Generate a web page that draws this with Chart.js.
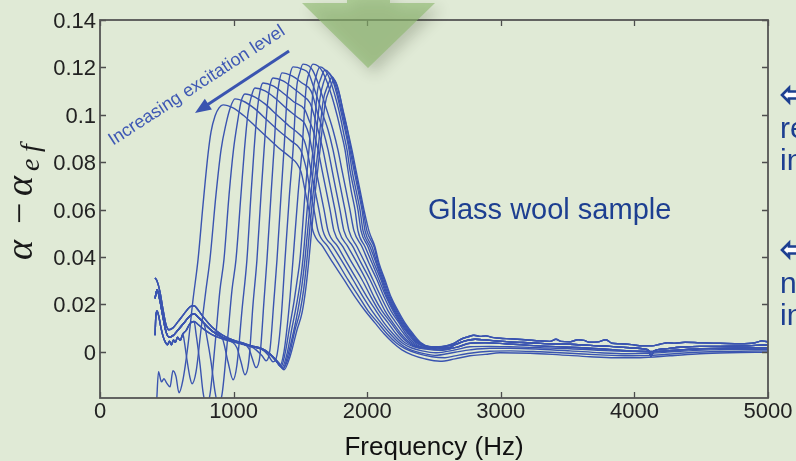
<!DOCTYPE html>
<html><head><meta charset="utf-8">
<script src="https://cdn.jsdelivr.net/npm/chart.js"></script>
<style>html,body{margin:0;padding:0;background:#e0ead6;overflow:hidden}canvas{display:block}</style>
</head><body>
<canvas id="c" width="796" height="461"></canvas>
<script>
// ---------- data (frequency Hz, alpha - alpha_ef) ----------
const xTicks = [0, 1000, 2000, 3000, 4000, 5000];
const yTicks = [0, 0.02, 0.04, 0.06, 0.08, 0.1, 0.12, 0.14];

const headA = [[412,0.0312],[427,0.0299],[449,0.0253],[472,0.0177],[494,0.0114],[516,0.0093],[546,0.0101],[584,0.0127],[629,0.0160],[674,0.0190],[704,0.0194],[734,0.0177],[778,0.0143],[838,0.0105],[913,0.0072],[988,0.0051],[1063,0.0038],[1138,0.0025],[1213,0.0013],[1272,-0.0008],[1317,-0.0034],[1355,-0.0059]];
const headB = [[412,0.0225],[427,0.0262],[449,0.0215],[472,0.0145],[494,0.0085],[516,0.0062],[546,0.0068],[584,0.0092],[629,0.0122],[674,0.0152],[704,0.0160],[734,0.0146],[778,0.0120],[838,0.0088],[913,0.0062],[988,0.0046],[1063,0.0034],[1138,0.0022],[1213,0.0010],[1272,-0.0011],[1317,-0.0038],[1355,-0.0064]];
const headC = [[412,0.0070],[418,0.0150],[427,0.0172],[440,0.0150],[455,0.0105],[472,0.0065],[490,0.0040],[505,0.0030],[520,0.0045],[535,0.0030],[550,0.0050],[565,0.0040],[580,0.0062],[600,0.0048],[620,0.0075],[645,0.0090],[674,0.0120],[704,0.0128],[734,0.0115],[778,0.0095],[838,0.0072],[913,0.0055],[988,0.0042],[1063,0.0032],[1138,0.0020],[1213,0.0008],[1272,-0.0013],[1317,-0.0041],[1355,-0.0068]];

const c01 = [[424,-0.021],[438,-0.0084],[460,-0.0127],[479,-0.0114],[498,-0.0131],[524,-0.0148],[546,-0.0080],[569,-0.0105],[591,-0.0173],[621,-0.0118],[659,0.0030],[696,0.0219],[734,0.0390],[771,0.0620],[808,0.0831],[831,0.0928],[861,0.0995],[891,0.1029],[921,0.1042],[996,0.1029],[1070,0.0999],[1160,0.0953],[1257,0.0902],[1347,0.0856],[1422,0.0822],[1475,0.0793],[1505,0.0759],[1534,0.0683],[1564,0.0599],[1594,0.0510],[1669,0.0443],[1744,0.0375],[1826,0.0304],[1909,0.0232],[1984,0.0173],[2058,0.0122],[2126,0.0076],[2193,0.0038],[2260,0.0008],[2335,-0.0013],[2433,-0.0030],[2545,-0.0040]];
const c02 = [[629,0.0051],[651,-0.0034],[674,-0.0110],[689,-0.0135],[719,-0.0084],[756,0.0093],[793,0.0261],[823,0.0390],[868,0.0662],[906,0.0852],[943,0.0961],[977,0.1033],[1010,0.1067],[1085,0.1054],[1160,0.1025],[1250,0.0978],[1340,0.0932],[1430,0.0890],[1497,0.0856],[1527,0.0810],[1549,0.0759],[1572,0.0683],[1602,0.0599],[1632,0.0510],[1707,0.0443],[1781,0.0375],[1856,0.0304],[1939,0.0232],[2006,0.0173],[2081,0.0122],[2148,0.0076],[2216,0.0038],[2283,0.0013],[2380,-0.0008],[2485,-0.0021],[2582,-0.0025]];
const c03 = [[719,0.0076],[749,-0.0055],[771,-0.0169],[793,-0.0219],[823,-0.0181],[861,0.0030],[898,0.0261],[928,0.0390],[966,0.0662],[999,0.0852],[1033,0.0983],[1055,0.1054],[1085,0.1088],[1160,0.1075],[1235,0.1046],[1325,0.0999],[1415,0.0953],[1490,0.0919],[1527,0.0894],[1549,0.0852],[1579,0.0767],[1609,0.0683],[1639,0.0599],[1669,0.0510],[1744,0.0443],[1819,0.0375],[1894,0.0304],[1969,0.0232],[2036,0.0173],[2103,0.0122],[2171,0.0076],[2238,0.0038],[2305,0.0013],[2395,-0.0004],[2507,-0.0015]];
const c04 = [[801,0.0059],[831,-0.0042],[861,-0.0169],[883,-0.0219],[913,-0.0181],[951,0.0030],[988,0.0261],[1018,0.0390],[1055,0.0662],[1081,0.0852],[1108,0.1008],[1134,0.1080],[1160,0.1113],[1235,0.1101],[1310,0.1071],[1400,0.1025],[1475,0.0991],[1534,0.0961],[1564,0.0915],[1587,0.0852],[1617,0.0767],[1647,0.0683],[1677,0.0599],[1707,0.0510],[1781,0.0443],[1849,0.0375],[1924,0.0304],[1998,0.0232],[2066,0.0173],[2126,0.0122],[2193,0.0076],[2260,0.0038],[2328,0.0017],[2410,0.0004],[2515,-0.0004]];
const c05 = [[928,0.0034],[958,-0.0042],[996,-0.0118],[1025,-0.0055],[1063,0.0177],[1100,0.0390],[1130,0.0662],[1153,0.0852],[1179,0.1029],[1198,0.1101],[1220,0.1134],[1295,0.1122],[1370,0.1092],[1452,0.1054],[1534,0.1021],[1564,0.0978],[1594,0.0936],[1632,0.0852],[1662,0.0767],[1692,0.0683],[1722,0.0599],[1751,0.0510],[1819,0.0443],[1886,0.0375],[1961,0.0304],[2028,0.0232],[2088,0.0173],[2156,0.0122],[2216,0.0076],[2283,0.0038],[2350,0.0021],[2440,0.0011],[2545,0.0006]];
const c06 = [[1025,0.0017],[1055,-0.0042],[1085,-0.0097],[1115,-0.0034],[1145,0.0198],[1175,0.0390],[1205,0.0662],[1228,0.0852],[1254,0.1050],[1272,0.1122],[1295,0.1155],[1370,0.1143],[1445,0.1113],[1519,0.1080],[1572,0.1050],[1602,0.0999],[1632,0.0936],[1669,0.0852],[1699,0.0767],[1729,0.0683],[1759,0.0599],[1789,0.0510],[1856,0.0443],[1924,0.0375],[1991,0.0304],[2051,0.0232],[2111,0.0173],[2178,0.0122],[2238,0.0076],[2305,0.0038],[2365,0.0021],[2455,0.0013],[2560,0.0008]];
const c07 = [[1115,0.0013],[1138,-0.0025],[1168,-0.0067],[1198,-0.0013],[1228,0.0219],[1250,0.0390],[1280,0.0662],[1302,0.0852],[1325,0.1071],[1343,0.1143],[1362,0.1177],[1437,0.1164],[1512,0.1134],[1579,0.1101],[1602,0.1063],[1632,0.0999],[1669,0.0936],[1707,0.0852],[1737,0.0767],[1766,0.0683],[1796,0.0599],[1826,0.0510],[1894,0.0443],[1954,0.0375],[2021,0.0304],[2081,0.0232],[2133,0.0173],[2193,0.0122],[2253,0.0076],[2320,0.0038],[2380,0.0021],[2470,0.0015],[2582,0.0011]];
const c08 = [[1168,0.0008],[1213,-0.0017],[1243,-0.0038],[1272,0.0008],[1302,0.0219],[1325,0.0390],[1355,0.0662],[1377,0.0852],[1403,0.1096],[1422,0.1168],[1445,0.1202],[1512,0.1193],[1564,0.1172],[1594,0.1126],[1632,0.1063],[1669,0.0999],[1707,0.0936],[1744,0.0852],[1774,0.0767],[1804,0.0683],[1834,0.0599],[1864,0.0510],[1924,0.0443],[1984,0.0375],[2043,0.0304],[2103,0.0232],[2156,0.0173],[2216,0.0122],[2275,0.0076],[2335,0.0038],[2395,0.0021],[2485,0.0017],[2597,0.0013]];
const c09 = [[1257,-0.0013],[1295,-0.0042],[1325,-0.0013],[1355,0.0135],[1385,0.0390],[1418,0.0662],[1445,0.0852],[1471,0.1109],[1497,0.1181],[1519,0.1214],[1564,0.1206],[1594,0.1185],[1632,0.1134],[1669,0.1071],[1707,0.1004],[1744,0.0936],[1781,0.0852],[1811,0.0767],[1841,0.0683],[1871,0.0599],[1901,0.0510],[1961,0.0443],[2013,0.0375],[2073,0.0304],[2126,0.0232],[2178,0.0173],[2238,0.0122],[2290,0.0076],[2350,0.0038],[2410,0.0021],[2500,0.0017],[2605,0.0015]];
const c10 = [[1347,-0.0059],[1377,0.0000],[1400,0.0101],[1422,0.0228],[1445,0.0390],[1482,0.0662],[1512,0.0852],[1542,0.1109],[1568,0.1181],[1594,0.1214],[1632,0.1206],[1662,0.1185],[1699,0.1139],[1737,0.1075],[1774,0.0999],[1804,0.0928],[1834,0.0852],[1856,0.0767],[1879,0.0683],[1909,0.0599],[1931,0.0510],[1984,0.0443],[2036,0.0375],[2088,0.0304],[2141,0.0232],[2193,0.0173],[2246,0.0122],[2305,0.0076],[2365,0.0038],[2425,0.0023],[2515,0.0019],[2620,0.0017]];
const c11 = [[1355,-0.0063],[1385,-0.0008],[1422,0.0114],[1452,0.0211],[1475,0.0299],[1497,0.0390],[1534,0.0662],[1564,0.0852],[1594,0.1096],[1620,0.1168],[1647,0.1202],[1677,0.1193],[1707,0.1168],[1737,0.1122],[1774,0.1050],[1804,0.0978],[1826,0.0915],[1849,0.0852],[1871,0.0767],[1901,0.0683],[1931,0.0599],[1954,0.0510],[2006,0.0443],[2051,0.0375],[2103,0.0304],[2148,0.0232],[2201,0.0173],[2253,0.0122],[2313,0.0076],[2373,0.0038],[2433,0.0023],[2522,0.0021],[2620,0.0019]];
const c12 = [[1362,-0.0067],[1400,-0.0008],[1437,0.0101],[1467,0.0186],[1497,0.0287],[1519,0.0390],[1560,0.0662],[1594,0.0852],[1624,0.1084],[1654,0.1155],[1684,0.1189],[1714,0.1177],[1744,0.1143],[1774,0.1084],[1804,0.1012],[1834,0.0936],[1864,0.0852],[1886,0.0767],[1916,0.0683],[1946,0.0599],[1969,0.0510],[2021,0.0443],[2066,0.0375],[2111,0.0304],[2156,0.0232],[2208,0.0173],[2260,0.0122],[2320,0.0076],[2380,0.0038],[2440,0.0023],[2530,0.0021]];
const c13 = [[1370,-0.0070],[1407,-0.0013],[1452,0.0093],[1482,0.0177],[1512,0.0283],[1534,0.0390],[1579,0.0662],[1609,0.0852],[1647,0.1071],[1677,0.1143],[1707,0.1177],[1737,0.1160],[1766,0.1118],[1796,0.1050],[1826,0.0978],[1849,0.0915],[1871,0.0852],[1901,0.0767],[1931,0.0683],[1961,0.0599],[1984,0.0510],[2036,0.0443],[2073,0.0375],[2118,0.0304],[2163,0.0232],[2216,0.0173],[2268,0.0122],[2328,0.0076],[2388,0.0038],[2448,0.0023],[2537,0.0021]];
const c14 = [[1370,-0.0072],[1415,-0.0017],[1460,0.0093],[1497,0.0169],[1527,0.0274],[1549,0.0390],[1594,0.0662],[1632,0.0852],[1669,0.1054],[1707,0.1126],[1737,0.1160],[1759,0.1143],[1789,0.1092],[1819,0.1021],[1849,0.0945],[1879,0.0852],[1909,0.0767],[1939,0.0683],[1969,0.0599],[1998,0.0510],[2051,0.0443],[2081,0.0375],[2126,0.0304],[2171,0.0232],[2223,0.0173],[2275,0.0122],[2335,0.0076],[2395,0.0038],[2455,0.0023],[2545,0.0021]];
const c15 = [[1377,-0.0076],[1422,-0.0021],[1475,0.0093],[1512,0.0164],[1542,0.0274],[1564,0.0390],[1609,0.0662],[1647,0.0852],[1684,0.1042],[1722,0.1113],[1751,0.1147],[1774,0.1126],[1796,0.1080],[1819,0.1012],[1856,0.0928],[1886,0.0852],[1916,0.0767],[1946,0.0683],[1976,0.0599],[2013,0.0510],[2058,0.0443],[2088,0.0375],[2133,0.0304],[2178,0.0232],[2231,0.0173],[2283,0.0122],[2343,0.0076],[2403,0.0038],[2463,0.0023],[2552,0.0021]];

const tailA = [[2657,0.0038],[2710,0.0055],[2754,0.0063],[2799,0.0070],[2844,0.0065],[2889,0.0067],[2934,0.0061],[2994,0.0057],[3069,0.0055],[3181,0.0051],[3293,0.0046],[3368,0.0044],[3413,0.0053],[3451,0.0044],[3518,0.0042],[3578,0.0051],[3623,0.0048],[3668,0.0040],[3728,0.0042],[3787,0.0051],[3832,0.0036],[3892,0.0034],[3982,0.0030],[4057,0.0025],[4132,0.0025],[4192,0.0032],[4251,0.0038],[4304,0.0036],[4379,0.0040],[4491,0.0038],[4641,0.0036],[4790,0.0034],[4903,0.0038],[4955,0.0046],[5000,0.0042]];
const tailB = [[2657,0.0030],[2732,0.0046],[2807,0.0053],[2919,0.0048],[3069,0.0042],[3218,0.0038],[3368,0.0034],[3518,0.0032],[3668,0.0027],[3817,0.0023],[3967,0.0017],[4079,0.0011],[4109,0.0004],[4124,-0.0019],[4147,0.0004],[4229,0.0013],[4341,0.0019],[4491,0.0023],[4641,0.0023],[4828,0.0025],[5000,0.0030]];
const tailC = [[2680,0.0021],[2769,0.0036],[2882,0.0038],[3031,0.0034],[3218,0.0027],[3443,0.0021],[3668,0.0015],[3855,0.0008],[4004,0.0002],[4117,0.0000],[4192,0.0002],[4341,0.0008],[4491,0.0013],[4716,0.0015],[5000,0.0017]];
const tailL1 = [[2657,-0.0030],[2769,-0.0017],[2882,-0.0011],[2994,-0.0004],[3219,-0.0006],[3443,-0.0013],[3668,-0.0021],[3855,-0.0025],[4042,-0.0025],[4266,-0.0017],[4491,-0.0008],[4716,-0.0004],[5000,-0.0002]];
const tailL2 = [[2657,-0.0017],[2769,-0.0006],[2919,0.0002],[3069,0.0004],[3293,0.0000],[3518,-0.0006],[3743,-0.0013],[3930,-0.0017],[4117,-0.0015],[4341,-0.0006],[4566,0.0000],[4790,0.0002],[5000,0.0004]];
const tailL3 = [[2657,-0.0002],[2769,0.0008],[2919,0.0015],[3069,0.0015],[3293,0.0011],[3518,0.0004],[3743,-0.0004],[3930,-0.0008],[4117,-0.0006],[4341,0.0002],[4566,0.0008],[4790,0.0011],[5000,0.0011]];
const tailL4 = [[2657,0.0008],[2769,0.0021],[2919,0.0023],[3069,0.0021],[3293,0.0017],[3518,0.0013],[3743,0.0006],[3930,0.0002],[4117,0.0002],[4341,0.0008],[4566,0.0015],[4790,0.0017],[5000,0.0017]];

// which shared low-frequency part and tail each curve continues with
const curveParts = [
  [[], c01, tailL1], [headC, c02, tailL2], [headC, c03, tailL3], [headB, c04, tailL4],
  [headB, c05, tailC], [headC, c06, tailC], [headB, c07, tailC], [headC, c08, tailB],
  [headB, c09, tailB], [headA, c10, tailA], [headB, c11, tailB], [headA, c12, tailA],
  [headB, c13, tailB], [headA, c14, tailA], [headB, c15, tailB]
];

// annotation anchors (data coordinates)
const excitationLabel = {text: 'Increasing excitation level', f: 97, v: 0.0869, angleDeg: -32.9};
const excitationArrow = {from: [1415, 0.1269], to: [711, 0.1008]};
const sampleLabel = {text: 'Glass wool sample', f: 2455, v: 0.0559};

function compose(head, own, tail) {
  const first = own[0][0], last = own[own.length - 1][0];
  return head.filter(p => p[0] < first).concat(own, tail.filter(p => p[0] > last));
}

const lineColor = 'rgb(58,84,176)';
const datasets = curveParts.map(([h, o, t]) => ({
  data: compose(h, o, t).map(([x, y]) => ({x, y})),
  borderColor: lineColor, borderWidth: 1.4, pointRadius: 0, fill: false,
  cubicInterpolationMode: 'monotone', clip: 0
}));

const SANS = '"Liberation Sans", Arial, Helvetica, sans-serif';
const SERIF = '"Liberation Serif", "DejaVu Serif", serif';

const framePlugin = {
  id: 'frame',
  afterDatasetsDraw(chart) {
    const {ctx, chartArea: {left, right, top, bottom}} = chart;
    const xs = chart.scales.x, ys = chart.scales.y;
    ctx.save();
    ctx.strokeStyle = '#4d4d4d'; ctx.lineWidth = 1.3;
    ctx.beginPath();
    xTicks.forEach(v => {
      const p = Math.round(xs.getPixelForValue(v)) + 0.5;
      ctx.moveTo(p, bottom); ctx.lineTo(p, bottom - 6);
      ctx.moveTo(p, top); ctx.lineTo(p, top + 6);
    });
    yTicks.forEach(v => {
      const p = Math.round(ys.getPixelForValue(v)) + 0.5;
      ctx.moveTo(left, p); ctx.lineTo(left + 6, p);
      ctx.moveTo(right, p); ctx.lineTo(right - 6, p);
    });
    ctx.stroke();
    ctx.lineWidth = 1.8; ctx.strokeStyle = '#555';
    ctx.strokeRect(left, top, right - left, bottom - top);
    ctx.restore();
  }
};

function hollowArrow(ctx, x, cy) {
  // outlined left-pointing arrow icon (cut off by the page edge)
  ctx.save();
  ctx.strokeStyle = '#1d3f91'; ctx.lineWidth = 2.6; ctx.lineJoin = 'miter';
  ctx.fillStyle = '#ffffff';
  ctx.beginPath();
  ctx.moveTo(x, cy);
  ctx.lineTo(x + 7, cy - 7);
  ctx.lineTo(x + 7, cy - 3.5);
  ctx.lineTo(x + 22, cy - 3.5);
  ctx.lineTo(x + 22, cy + 3.5);
  ctx.lineTo(x + 7, cy + 3.5);
  ctx.lineTo(x + 7, cy + 7);
  ctx.closePath();
  ctx.fill(); ctx.stroke();
  ctx.restore();
}

const annotPlugin = {
  id: 'annot',
  afterDraw(chart) {
    const {ctx} = chart;
    const xs = chart.scales.x, ys = chart.scales.y;
    ctx.save();
    // rotated label
    ctx.save();
    ctx.translate(xs.getPixelForValue(excitationLabel.f), ys.getPixelForValue(excitationLabel.v));
    ctx.rotate(excitationLabel.angleDeg * Math.PI / 180);
    ctx.fillStyle = 'rgb(62,88,180)';
    ctx.font = '18px ' + SANS;
    ctx.textBaseline = 'alphabetic';
    ctx.fillText(excitationLabel.text, 0, 0);
    ctx.restore();
    // arrow
    const ax0 = xs.getPixelForValue(excitationArrow.from[0]), ay0 = ys.getPixelForValue(excitationArrow.from[1]);
    const ax1 = xs.getPixelForValue(excitationArrow.to[0]), ay1 = ys.getPixelForValue(excitationArrow.to[1]);
    const dx = ax1 - ax0, dy = ay1 - ay0, L = Math.hypot(dx, dy), ux = dx / L, uy = dy / L;
    const hl = 16, hw = 6.5;
    const bx = ax1 - ux * hl, by = ay1 - uy * hl;
    ctx.strokeStyle = 'rgb(58,84,176)'; ctx.fillStyle = 'rgb(58,84,176)';
    ctx.lineWidth = 3;
    ctx.beginPath(); ctx.moveTo(ax0, ay0); ctx.lineTo(bx + ux * 2, by + uy * 2); ctx.stroke();
    ctx.beginPath(); ctx.moveTo(ax1, ay1);
    ctx.lineTo(bx - uy * hw, by + ux * hw); ctx.lineTo(bx + uy * hw, by - ux * hw); ctx.closePath(); ctx.fill();
    // sample label
    ctx.fillStyle = '#1d3f91';
    ctx.font = '29px ' + SANS;
    ctx.fillText(sampleLabel.text, xs.getPixelForValue(sampleLabel.f), ys.getPixelForValue(sampleLabel.v));
    // y axis title  (alpha - alpha_ef)
    ctx.save();
    ctx.translate(32, 260); ctx.rotate(-Math.PI / 2);
    ctx.fillStyle = '#1a1a1a'; ctx.textBaseline = 'alphabetic';
    ctx.font = 'italic 38px ' + SERIF;
    ctx.fillText('α', 0, 0);
    ctx.font = '38px ' + SERIF;
    ctx.fillText('−', 36, 0);
    ctx.font = 'italic 38px ' + SERIF;
    ctx.fillText('α', 64, 0);
    ctx.font = 'italic 28px ' + SERIF;
    ctx.fillText('e', 89, 7);
    ctx.fillText('f', 108, 7);
    ctx.restore();
    // right-hand cut-off slide text
    hollowArrow(ctx, 782, 95);
    hollowArrow(ctx, 782, 250);
    ctx.fillStyle = '#1d3f91';
    ctx.font = '30px ' + SANS;
    ctx.fillText('re', 780, 138);
    ctx.fillText('in', 780, 170);
    ctx.fillText('n', 780, 293);
    ctx.fillText('in', 780, 325);
    // green decorative arrow at top
    ctx.save();
    ctx.shadowColor = 'rgba(40,50,30,0.35)'; ctx.shadowBlur = 14; ctx.shadowOffsetX = 6; ctx.shadowOffsetY = 6;
    ctx.fillStyle = 'rgba(140,184,110,0.62)';
    ctx.beginPath();
    ctx.moveTo(347, -5); ctx.lineTo(390, -5); ctx.lineTo(390, 3); ctx.lineTo(435, 3);
    ctx.lineTo(368, 68); ctx.lineTo(302, 3); ctx.lineTo(347, 3); ctx.closePath();
    ctx.fill();
    ctx.restore();
    ctx.restore();
  }
};

new Chart(document.getElementById('c'), {
  type: 'line',
  data: {datasets},
  options: {
    responsive: false, animation: false, devicePixelRatio: 1,
    layout: {padding: {left: 0, right: 28, top: 20, bottom: 0}},
    plugins: {legend: {display: false}, tooltip: {enabled: false}},
    scales: {
      x: {
        type: 'linear', min: 0, max: 5000,
        afterBuildTicks: s => { s.ticks = xTicks.map(v => ({value: v})); },
        afterFit: s => { s.height = 63; },
        grid: {display: false, drawTicks: false}, border: {display: false},
        ticks: {padding: 1, color: '#222', autoSkip: false, maxRotation: 0,
                font: {family: SANS, size: 22}, callback: v => String(v)},
        title: {display: true, text: 'Frequency (Hz)', color: '#111',
                font: {family: SANS, size: 26, lineHeight: 1}, padding: {top: 0, bottom: 0}}
      },
      y: {
        type: 'linear', min: -0.0195, max: 0.14,
        afterBuildTicks: s => { s.ticks = yTicks.map(v => ({value: v})); },
        afterFit: s => { s.width = 100; },
        grid: {display: false, drawTicks: false}, border: {display: false},
        ticks: {padding: 4, color: '#222', autoSkip: false, labelOffset: 2,
                font: {family: SANS, size: 22},
                callback: v => v === 0 ? '0' : String(Number(v.toFixed(2)))}
      }
    }
  },
  plugins: [framePlugin, annotPlugin]
});
</script>
</body></html>
